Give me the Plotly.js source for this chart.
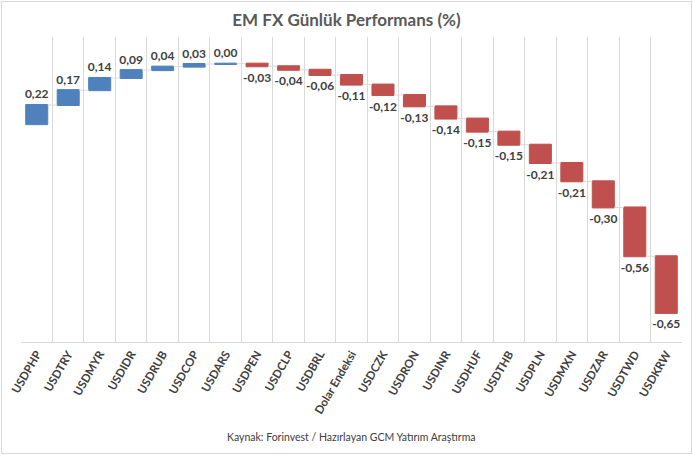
<!DOCTYPE html>
<html>
<head>
<meta charset="utf-8">
<script src="https://cdn.plot.ly/plotly-3.0.1.min.js"></script>
<style>
html,body{margin:0;padding:0;background:#fff;}
#chart{width:693px;height:455px;}
#frame{position:absolute;left:1px;top:1px;width:689px;height:451px;border:1px solid #d9d9d9;pointer-events:none;}
</style>
</head>
<body>
<div id="chart"></div>
<div id="frame"></div>
<script>
var categories = ["USDPHP","USDTRY","USDMYR","USDIDR","USDRUB","USDCOP","USDARS","USDPEN","USDCLP","USDBRL","Dolar Endeksi","USDCZK","USDRON","USDINR","USDHUF","USDTHB","USDPLN","USDMXN","USDZAR","USDTWD","USDKRW"];
var values = [0.22,0.17,0.14,0.09,0.04,0.03,0.004,-0.03,-0.04,-0.06,-0.11,-0.12,-0.13,-0.14,-0.15,-0.15,-0.21,-0.21,-0.30,-0.56,-0.65];
var labels = values.map(function(v){ return v.toFixed(2).replace('.', ','); });

var blue = '#4F81BD', red = '#C0504D';
var trace = {
  type: 'waterfall',
  x: categories,
  y: values,
  measure: values.map(function(){ return 'relative'; }),
  text: labels,
  textinfo: 'text',
  textposition: 'outside',
  constraintext: 'none',
  cliponaxis: false,
  textfont: {family: 'Lato, "Open Sans", sans-serif', size: 12, color: '#404040', weight: 'bold'},
  increasing: {marker: {color: blue, line: {color: blue, width: 1}}},
  decreasing: {marker: {color: red, line: {color: red, width: 1}}},
  connector: {mode: 'between', line: {color: '#d9d9d9', width: 1}},
  width: 0.7,
  hoverinfo: 'none'
};

var layout = {
  width: 693, height: 455,
  margin: {l: 21, r: 11, t: 37, b: 113},
  paper_bgcolor: '#fff', plot_bgcolor: '#fff',
  showlegend: false,
  title: {text: 'EM FX Günlük Performans (%)', x: 0.5, xanchor: 'center', y: 0.955, yanchor: 'middle',
          font: {family: 'Lato, "Open Sans", sans-serif', size: 17, color: '#595959', weight: 'bold'}},
  xaxis: {
    type: 'category',
    tickson: 'boundaries',
    showgrid: true, gridcolor: '#d9d9d9', gridwidth: 1,
    showline: true, linecolor: '#d9d9d9', linewidth: 1,
    ticks: 'outside', ticklen: 6, tickcolor: 'rgba(0,0,0,0)', tickangle: -60,
    tickfont: {family: 'Lato, "Open Sans", sans-serif', size: 11.5, color: '#404040', weight: 'bold'},
    mirror: false, zeroline: false
  },
  yaxis: {
    range: [-2.5, 1.0], visible: false, showgrid: false, zeroline: false
  },
  annotations: [{
    text: 'Kaynak: Forinvest / Hazırlayan GCM Yatırım Araştırma',
    xref: 'paper', yref: 'paper', x: 0.5, y: 0, yshift: -95, xanchor: 'center', yanchor: 'middle',
    showarrow: false,
    font: {family: 'Lato, "Open Sans", sans-serif', size: 10.5, color: '#404040'}
  }]
};

Plotly.newPlot('chart', [trace], layout, {displayModeBar: false, staticPlot: true});
</script>
</body>
</html>
